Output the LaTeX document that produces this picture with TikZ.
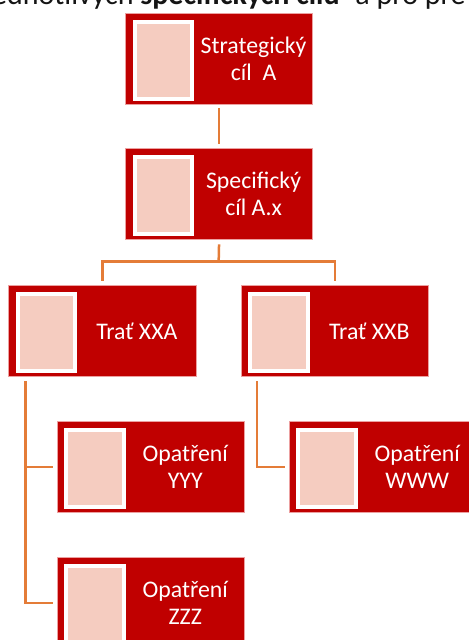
\documentclass[tikz,border=0pt]{standalone}
\usepackage{fontspec}
\setmainfont{Carlito}
\definecolor{boxred}{RGB}{192,0,0}
\definecolor{boxedge}{RGB}{236,160,160}
\definecolor{padpink}{RGB}{245,204,192}
\definecolor{linkorange}{RGB}{228,124,56}
\definecolor{headink}{RGB}{20,20,20}

% one unit = one pixel of a 469 x 640 canvas, y pointing down
\tikzset{
  x=0.5pt, y=-0.5pt,
  orgbox/.style={draw=boxedge, line width=0.4pt, fill=boxred,
    minimum width=93.65pt, minimum height=45.75pt, inner sep=0pt,
    anchor=north west},
  picpad/.style={draw=white, line width=2pt, fill=padpink,
    minimum width=28.75pt, minimum height=38.25pt, inner sep=0pt,
    anchor=north west},
  boxlabel/.style={text=white, align=center, inner sep=0pt,
    font=\fontsize{11.9pt}{13.5pt}\selectfont},
  headline/.style={text=headink, inner sep=0pt,
    font=\fontsize{15pt}{18pt}\selectfont},
  link/.style={draw=linkorange, line width=1.25pt},
}

% box with picture placeholder and label: name, left, top, label
\newcommand\orgunit[4]{%
  \node[orgbox] (#1) at (#2,#3) {};
  \node[picpad] (#1-pic) at ([xshift=3.75pt,yshift=-3.75pt]#1.north west) {};
  \node[boxlabel] (#1-txt) at ([xshift=17.25pt]#1.center) {#4};
}

\begin{document}
\begin{tikzpicture}
\useasboundingbox (0,0) rectangle (469,640);
\clip (0,0) rectangle (469,640);

% heading line, cut at the top edge
\node[headline, anchor=base east] (h1) at (134,5) {jednotlivých};
\node[headline, anchor=base west] (h2) at (140,5) {\textbf{specifických cílů}};
\node[headline, anchor=base west] (h3) at (355,5) {a pro pre};

% units
\orgunit{sa}{125}{12.7}{Strategický\\cíl\ \ A}
\orgunit{sb}{125}{148}{Specifický\\cíl A.x}
\orgunit{ta}{8.3}{284.7}{Trať XXA}
\orgunit{tb}{240.7}{284.7}{Trať XXB}
\orgunit{oy}{56.7}{420.7}{Opatření\\YYY}
\orgunit{ow}{288.7}{420.7}{Opatření\\WWW}
\orgunit{oz}{56.7}{556.7}{Opatření\\ZZZ}

% connectors
\draw[link] ([yshift=-1.5pt]sa.south) -- ([yshift=2pt]sb.north);
\coordinate (split) at (218.65,261.7);
\draw[link] ([yshift=-2pt]sb.south) -- (split);
\draw[link] (split) -| ([yshift=2pt]ta.north);
\draw[link] (split) -| ([yshift=2pt]tb.north);
\draw[link] ([xshift=8.5pt,yshift=-2pt]ta.south west) |- ([xshift=-2pt]oy.west);
\draw[link] ([xshift=8.5pt,yshift=-2pt]ta.south west) |- ([xshift=-2pt]oz.west);
\draw[link] ([xshift=8.2pt,yshift=-2pt]tb.south west) |- ([xshift=-2pt]ow.west);
\end{tikzpicture}
\end{document}
